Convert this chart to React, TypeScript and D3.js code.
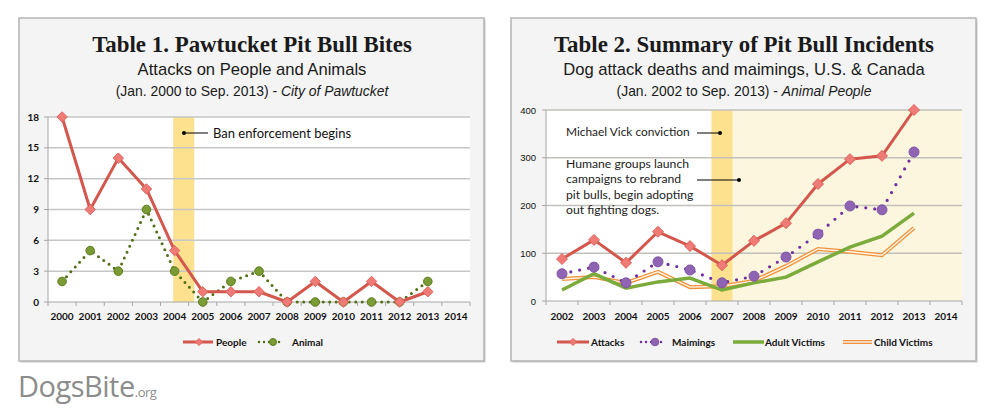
import * as d3 from 'd3';

const leftYears = ['2000', '2001', '2002', '2003', '2004', '2005', '2006', '2007', '2008', '2009', '2010', '2011', '2012', '2013', '2014'];
const people = [18, 9, 14, 11, 5, 1, 1, 1, 0, 2, 0, 2, 0, 1];
const animal = [2, 5, 3, 9, 3, 0, 2, 3, 0, 0, 0, 0, 0, 2];
const leftTicks = [0, 3, 6, 9, 12, 15, 18];

const rightYears = ['2002', '2003', '2004', '2005', '2006', '2007', '2008', '2009', '2010', '2011', '2012', '2013', '2014'];
const attacks = [88, 128, 80, 145, 115, 75, 126, 163, 245, 297, 304, 400];
const maimings = [57, 71, 38, 82, 65, 38, 52, 92, 140, 199, 191, 312];
const adultVictims = [23, 57, 27, 40, 48, 23, 38, 50, 82, 113, 136, 184];
const childVictims = [46, 50, 38, 61, 29, 31, 42, 73, 109, 103, 96, 153];
const rightTicks = [0, 100, 200, 300, 400];

const RED = '#d4574e';
const RED_FILL = '#ee7b75';
const OLIVE = '#4f7016';
const OLIVE_FILL = '#7b9b34';
const PURPLE = '#7030a0';
const PURPLE_FILL = '#8e64b3';
const GREEN = '#7aab3b';
const ORANGE = '#f0913a';
const BAND = '#fde18e';
const CREAM = '#fdf6de';

const sans = '"Liberation Sans", Arial, sans-serif';
const cal = 'Lato, "Open Sans", sans-serif';
const serif = '"Liberation Serif", "DejaVu Serif", serif';

function diamond(cx: number, cy: number, r: number) {
  return `M${cx},${cy - r}L${cx + r},${cy}L${cx},${cy + r}L${cx - r},${cy}Z`;
}

function Panel({ x, w, title, sub, src, srcItalic, tx }: { x: number; w: number; title: string; sub: string; src: string; srcItalic: string; tx: number }) {
  return (
    <g>
      <rect x={x + 1.5} y={19.5} width={w} height={343} fill="#c9c9c9" />
      <rect x={x} y={18} width={w} height={343} fill="#f4f4f4" stroke="#b4b4b4" strokeWidth={1.5} />
      <text x={tx} y={52} textAnchor="middle" fontFamily={serif} fontWeight="bold" fontSize={22.9} fill="#1a1a1a">{title}</text>
      <text x={tx} y={75} textAnchor="middle" fontFamily={sans} fontSize={16.6} fill="#1a1a1a">{sub}</text>
      <text x={tx} y={96} textAnchor="middle" fontFamily={sans} fontSize={13.9} fill="#1a1a1a">
        {src}<tspan fontStyle="italic">{srcItalic}</tspan>
      </text>
    </g>
  );
}

function LeftChart() {
  const x = d3.scaleBand<string>().domain(leftYears).range([48, 470]);
  const y = d3.scaleLinear().domain([0, 18]).range([302, 117]);
  const cx = (i: number) => x(leftYears[i])! + x.bandwidth() / 2;
  const peopleLine = d3.line<number>().x((_, i) => cx(i)).y(d => y(d));
  const bandX = x('2004')! + x.bandwidth() * 0.45;
  const bandW = x.bandwidth() * 0.75;
  return (
    <g>
      <Panel x={19} w={465} title="Table 1. Pawtucket Pit Bull Bites" sub="Attacks on People and Animals"
        src="(Jan. 2000 to Sep. 2013) - " srcItalic="City of Pawtucket" tx={252} />
      <rect x={48} y={y(18)} width={422} height={y(0) - y(18)} fill="#fff" />
      <rect x={bandX} y={y(18)} width={bandW} height={y(0) - y(18)} fill={BAND} />
      {leftTicks.filter(t => t > 0).map(t => (
        <line key={t} x1={48} x2={470} y1={y(t)} y2={y(t)} stroke="#c6c6c6" strokeWidth={1.5} />
      ))}
      <line x1={48} x2={470} y1={y(0)} y2={y(0)} stroke="#a6a6a6" strokeWidth={1} />
      <line x1={48} x2={48} y1={y(18)} y2={y(0)} stroke="#a6a6a6" strokeWidth={1} />
      {leftTicks.map(t => (
        <g key={t}>
          <line x1={44} x2={48} y1={y(t)} y2={y(t)} stroke="#a6a6a6" />
          <text x={39} y={y(t) + 3.5} textAnchor="end" fontFamily={cal} fontWeight="bold" fontSize={10} fill="#111">{t}</text>
        </g>
      ))}
      {leftYears.map((yr, i) => (
        <g key={yr}>
          <line x1={x(yr)!} x2={x(yr)!} y1={y(0)} y2={y(0) + 4} stroke="#a6a6a6" />
          <text x={cx(i)} y={320} textAnchor="middle" fontFamily={cal} fontWeight="bold" fontSize={10} fill="#111">{yr}</text>
        </g>
      ))}
      <line x1={470} x2={470} y1={y(0)} y2={y(0) + 4} stroke="#a6a6a6" />
      <path d={peopleLine(animal)!} fill="none" stroke={OLIVE} strokeWidth={3} strokeDasharray="0 6.5" strokeLinecap="round" />
      {animal.map((d, i) => (
        <circle key={i} cx={cx(i)} cy={y(d)} r={4.3} fill={OLIVE_FILL} stroke="#5b7c1c" strokeWidth={1} />
      ))}
      <path d={peopleLine(people)!} fill="none" stroke={RED} strokeWidth={3} strokeLinejoin="round" />
      {people.map((d, i) => (
        <path key={i} d={diamond(cx(i), y(d), 5.2)} fill={RED_FILL} stroke="#e0625c" strokeWidth={1} />
      ))}
      <circle cx={184} cy={133} r={2} fill="#000" />
      <line x1={184} x2={208} y1={133} y2={133} stroke="#000" strokeWidth={1} />
      <text x={213} y={137.5} fontFamily={cal} fontSize={13} fill="#111">Ban enforcement begins</text>
      <line x1={183} x2={213} y1={342} y2={342} stroke={RED} strokeWidth={3} />
      <path d={diamond(199, 342, 3.5)} fill={RED_FILL} stroke="#e0625c" />
      <text x={216} y={345.5} fontFamily={cal} fontWeight="bold" fontSize={10} fill="#111">People</text>
      <line x1={259} x2={283} y1={342} y2={342} stroke={OLIVE} strokeWidth={2.5} strokeDasharray="0 5" strokeLinecap="round" />
      <circle cx={273} cy={342} r={3.5} fill={OLIVE_FILL} stroke="#5b7c1c" />
      <text x={292} y={345.5} fontFamily={cal} fontWeight="bold" fontSize={10} fill="#111">Animal</text>
    </g>
  );
}

function RightChart() {
  const x = d3.scaleBand<string>().domain(rightYears).range([546, 962]);
  const y = d3.scaleLinear().domain([0, 400]).range([301, 110]);
  const bw = x.bandwidth();
  const cx = (i: number) => x(rightYears[i])! + bw / 2;
  const line = d3.line<number>().x((_, i) => cx(i)).y(d => y(d));
  const bandL = x('2007')! + bw * 0.17;
  const bandR = x('2007')! + bw * 0.83;
  const legendY = 342;
  return (
    <g>
      <Panel x={511} w={465} title="Table 2. Summary of Pit Bull Incidents" sub="Dog attack deaths and maimings, U.S. & Canada"
        src="(Jan. 2002 to Sep. 2013) - " srcItalic="Animal People" tx={744} />
      <rect x={546} y={y(400)} width={416} height={y(0) - y(400)} fill="#fff" />
      <rect x={bandR} y={y(400)} width={962 - bandR} height={y(0) - y(400)} fill={CREAM} />
      <rect x={bandL} y={y(400)} width={bandR - bandL} height={y(0) - y(400)} fill={BAND} />
      {rightTicks.filter(t => t > 0).map(t => (
        <line key={t} x1={546} x2={962} y1={y(t)} y2={y(t)} stroke="#c2c0ba" strokeWidth={1.5} />
      ))}
      <line x1={546} x2={962} y1={y(0)} y2={y(0)} stroke="#a6a6a6" />
      <line x1={546} x2={546} y1={y(400)} y2={y(0)} stroke="#a6a6a6" />
      {rightTicks.map(t => (
        <g key={t}>
          <line x1={542} x2={546} y1={y(t)} y2={y(t)} stroke="#a6a6a6" />
          <text x={536} y={y(t) + 3.5} textAnchor="end" fontFamily={sans} fontSize={9.5} fill="#111">{t}</text>
        </g>
      ))}
      {rightYears.map((yr, i) => (
        <g key={yr}>
          <line x1={x(yr)!} x2={x(yr)!} y1={y(0)} y2={y(0) + 4} stroke="#a6a6a6" />
          <text x={cx(i)} y={320} textAnchor="middle" fontFamily={cal} fontWeight="bold" fontSize={10} fill="#111">{yr}</text>
        </g>
      ))}
      <line x1={962} x2={962} y1={y(0)} y2={y(0) + 4} stroke="#a6a6a6" />
      <path d={line(childVictims)!} fill="none" stroke={ORANGE} strokeWidth={4} />
      <path d={line(childVictims)!} fill="none" stroke="#fff6e6" strokeWidth={1.4} />
      <path d={line(adultVictims)!} fill="none" stroke={GREEN} strokeWidth={3.5} />
      <path d={line(maimings)!} fill="none" stroke={PURPLE} strokeWidth={3.2} strokeDasharray="0 9" strokeLinecap="round" />
      {maimings.map((d, i) => (
        <circle key={i} cx={cx(i)} cy={y(d)} r={5} fill={PURPLE_FILL} stroke="#7f55a6" strokeWidth={1} />
      ))}
      <path d={line(attacks)!} fill="none" stroke={RED} strokeWidth={3} strokeLinejoin="round" />
      {attacks.map((d, i) => (
        <path key={i} d={diamond(cx(i), y(d), 5.5)} fill={RED_FILL} stroke="#e0625c" strokeWidth={1} />
      ))}
      <text x={566} y={136} fontFamily={cal} fontSize={11.9} fill="#222">Michael Vick conviction</text>
      <line x1={697} x2={720} y1={133} y2={133} stroke="#000" />
      <circle cx={720} cy={133} r={2} fill="#000" />
      {['Humane groups launch', 'campaigns to rebrand', 'pit bulls, begin adopting', 'out fighting dogs.'].map((s, i) => (
        <text key={s} x={566} y={168 + i * 15.3} fontFamily={cal} fontSize={12.2} fill="#222">{s}</text>
      ))}
      <line x1={697} x2={739} y1={180} y2={180} stroke="#000" />
      <circle cx={739} cy={180} r={2} fill="#000" />
      <line x1={557} x2={589} y1={legendY} y2={legendY} stroke={RED} strokeWidth={3} />
      <path d={diamond(573, legendY, 3.5)} fill={RED_FILL} stroke="#e0625c" />
      <text x={591} y={legendY + 3.5} fontFamily={cal} fontWeight="bold" fontSize={10} fill="#111">Attacks</text>
      <line x1={641} x2={665} y1={legendY} y2={legendY} stroke={PURPLE} strokeWidth={2.5} strokeDasharray="0 5" strokeLinecap="round" />
      <circle cx={655} cy={legendY} r={3.8} fill={PURPLE_FILL} stroke="#7f55a6" />
      <text x={672} y={legendY + 3.5} fontFamily={cal} fontWeight="bold" fontSize={10} fill="#111">Maimings</text>
      <line x1={733} x2={764} y1={legendY} y2={legendY} stroke={GREEN} strokeWidth={3.5} />
      <text x={765} y={legendY + 3.5} fontFamily={cal} fontWeight="bold" fontSize={10} fill="#111">Adult Victims</text>
      <line x1={843} x2={872} y1={legendY} y2={legendY} stroke={ORANGE} strokeWidth={4} />
      <line x1={843} x2={872} y1={legendY} y2={legendY} stroke="#f4f4f4" strokeWidth={1.4} />
      <text x={874} y={legendY + 3.5} fontFamily={cal} fontWeight="bold" fontSize={10} fill="#111">Child Victims</text>
    </g>
  );
}

export default function App() {
  return (
    <svg width={997} height={416} style={{ position: 'absolute', left: 0, top: 0 }}>
      <rect width={997} height={416} fill="#fff" />
      <LeftChart />
      <RightChart />
      <text x={18} y={397} fontFamily='"Open Sans", sans-serif' fontSize={29} fill="#8c8c8c" letterSpacing={-0.5}>
        DogsBite<tspan fontSize={13}>.org</tspan>
      </text>
    </svg>
  );
}
